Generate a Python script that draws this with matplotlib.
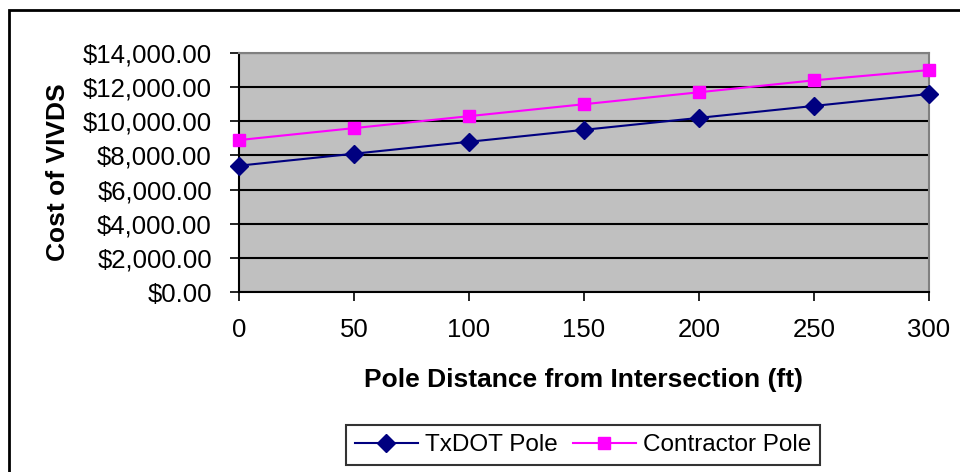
import matplotlib
matplotlib.use("Agg")
import matplotlib.pyplot as plt
from matplotlib.patches import Rectangle
from matplotlib.ticker import FuncFormatter

plt.rcParams['font.family'] = ['Liberation Sans', 'DejaVu Sans']

distance = [0, 50, 100, 150, 200, 250, 300]
txdot_pole = [7400, 8100, 8800, 9500, 10200, 10900, 11600]
contractor_pole = [8900, 9600, 10300, 11000, 11700, 12400, 13000]

W, H = 960, 472
fig = plt.figure(figsize=(W / 100, H / 100), dpi=100)

# outer chart frame (runs off the right and bottom edges)
fig.patches.append(Rectangle((9 / W, -0.05), 1.2, 1 - 10 / H + 0.05,
                             transform=fig.transFigure, fill=False,
                             edgecolor='black', linewidth=2))

left, right, top, bottom = 239, 929, 53, 292
ax = fig.add_axes([left / W, 1 - bottom / H, (right - left) / W, (bottom - top) / H])
ax.set_facecolor('#C0C0C0')

ax.plot(distance, txdot_pole, color='#000080', marker='D', markersize=9,
        linewidth=1.5, label='TxDOT Pole', zorder=3, clip_on=False)
ax.plot(distance, contractor_pole, color='#FF00FF', marker='s', markersize=8,
        linewidth=1.5, label='Contractor Pole', zorder=3, clip_on=False)

ax.set_xlim(0, 300)
ax.set_ylim(0, 14000)
ax.set_xticks(distance)
ax.set_yticks(range(0, 14001, 2000))
ax.yaxis.set_major_formatter(FuncFormatter(lambda v, p: f"${v:,.2f}"))
ax.grid(axis='y', color='black', linewidth=1.5, zorder=1)
ax.set_axisbelow(True)

for s in ('top', 'right'):
    ax.spines[s].set_color('#808080')
    ax.spines[s].set_linewidth(1.5)
for s in ('left', 'bottom'):
    ax.spines[s].set_color('black')
    ax.spines[s].set_linewidth(1.5)

ax.tick_params(axis='both', direction='out', length=6.5, width=1.2,
               labelsize=18.5, colors='black')
ax.tick_params(axis='y', pad=13)
ax.tick_params(axis='x', pad=12)

ax.set_xlabel('Pole Distance from Intersection (ft)', fontsize=19,
              fontweight='bold', labelpad=19)
ax.set_ylabel('Cost of VIVDS', fontsize=19, fontweight='bold', labelpad=9)

leg = fig.legend(loc='center', bbox_to_anchor=(583 / W, 1 - 445 / H), ncol=2,
                 fontsize=17.5, frameon=True, fancybox=False, edgecolor='black',
                 handlelength=2.6, handletextpad=0.3, columnspacing=0.6,
                 borderpad=0.35)
leg.get_frame().set_linewidth(1.5)

fig.savefig('out.png', dpi=100)
